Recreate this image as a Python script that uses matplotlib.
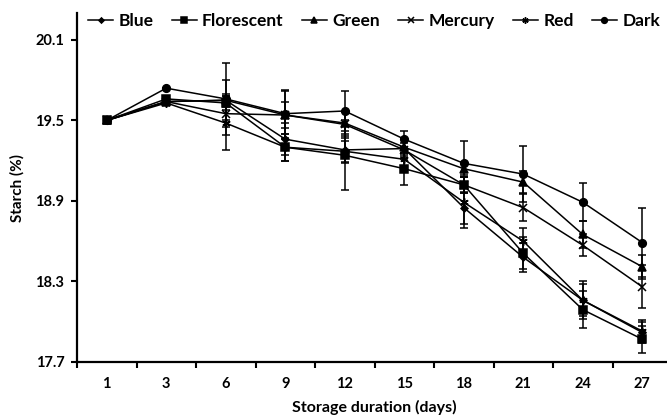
import numpy as np
import matplotlib.pyplot as plt
from matplotlib.ticker import FixedLocator

days = ["1", "3", "6", "9", "12", "15", "18", "21", "24", "27"]

blue = [19.50, 19.64, 19.65, 19.36, 19.28, 19.29, 18.85, 18.48, 18.16, 17.92]
florescent = [19.50, 19.66, 19.63, 19.30, 19.24, 19.14, 19.02, 18.51, 18.09, 17.87]
green = [19.50, 19.64, 19.65, 19.54, 19.48, 19.30, 19.14, 19.04, 18.65, 18.41]
mercury = [19.50, 19.64, 19.55, 19.54, 19.47, 19.28, 19.02, 18.85, 18.57, 18.26]
red = [19.50, 19.63, 19.48, 19.30, 19.27, 19.21, 18.89, 18.60, 18.16, 17.93]
dark = [19.50, 19.74, 19.66, 19.55, 19.57, 19.36, 19.18, 19.10, 18.89, 18.59]

blue_err = [0, 0, 0.05, 0.12, 0.10, 0.08, 0.12, 0.11, 0.12, 0.08]
florescent_err = [0, 0, 0.05, 0.10, 0.26, 0.12, 0.06, 0.12, 0.14, 0.10]
green_err = [0, 0, 0.15, 0.18, 0.08, 0.06, 0.05, 0.08, 0.10, 0.09]
mercury_err = [0, 0, 0.10, 0.10, 0.10, 0.05, 0.06, 0.10, 0.08, 0.16]
red_err = [0, 0, 0.20, 0.10, 0.08, 0.05, 0.19, 0.10, 0.14, 0.08]
dark_err = [0, 0, 0.27, 0.18, 0.15, 0.06, 0.17, 0.21, 0.14, 0.26]

plt.rcParams['font.family'] = ['Lato', 'DejaVu Sans']
plt.rcParams['font.weight'] = 'bold'

fig = plt.figure(figsize=(6.67, 4.16), dpi=100)
ax = fig.add_axes([77 / 667, 54 / 416, 595 / 667, 349 / 416])

x = np.arange(len(days))
series = [
    ("Blue", blue, blue_err, "D", 3.5),
    ("Florescent", florescent, florescent_err, "s", 5.5),
    ("Green", green, green_err, "^", 5.5),
    ("Mercury", mercury, mercury_err, "x", 5.5),
    ("Red", red, red_err, (6, 2, 0), 6),
    ("Dark", dark, dark_err, "o", 5.5),
]

for name, vals, err, mk, ms in series:
    ax.errorbar(x, vals, yerr=err, color="black", lw=1.1, marker=mk,
                markersize=ms, mew=1.1, ecolor="black", elinewidth=1.1,
                capsize=3, capthick=1.1, label=name)

ax.set_xlim(-0.5, len(days) - 0.5)
ax.set_ylim(17.7, 20.3)
ax.set_yticks([17.7, 18.3, 18.9, 19.5, 20.1])
ax.set_xticks(x)
ax.set_xticklabels(days)
ax.xaxis.set_minor_locator(FixedLocator(np.arange(-0.5, len(days), 1.0)))
ax.tick_params(axis="x", which="major", length=0, pad=11, labelsize=10.5)
ax.tick_params(axis="x", which="minor", length=4, width=1.5, direction="out")
ax.tick_params(axis="y", length=4, width=1.5, direction="out", pad=5, labelsize=10.5)

for s in ["top", "right"]:
    ax.spines[s].set_visible(False)
for s in ["left", "bottom"]:
    ax.spines[s].set_linewidth(1.6)

ax.set_xlabel("Storage duration (days)", fontsize=11.5, fontweight="bold", labelpad=6)
ax.set_ylabel("Starch (%)", fontsize=11, fontweight="bold", labelpad=8)

handles, labels = ax.get_legend_handles_labels()
handles = [h[0] for h in handles]
fig.legend(handles, labels, loc="center", bbox_to_anchor=(374 / 667, 1 - 21 / 416),
           ncol=6, frameon=False, fontsize=12.5, handlelength=1.45,
           handletextpad=0.3, columnspacing=1.05, borderaxespad=0,
           markerscale=0.75)

fig.savefig("out.png", dpi=100)
